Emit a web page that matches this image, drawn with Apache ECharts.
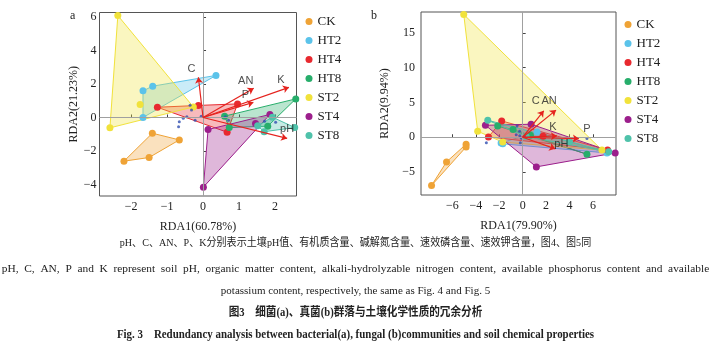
<!DOCTYPE html>
<html>
<head>
<meta charset="utf-8">
<script src="https://cdn.jsdelivr.net/npm/echarts@6/dist/echarts.min.js"></script>
<style>
  html, body { margin: 0; padding: 0; background: #fff; }
  #chart { width: 711px; height: 353px; }
</style>
</head>
<body>
<div id="chart"></div>
<script>
// groups
var groups = ['CK', 'HT2', 'HT4', 'HT8', 'ST2', 'ST4', 'ST8'];

// panel a: bacteria, sample scores
var ckA  = [[-1.41, -0.94], [-0.66, -1.34], [-1.50, -2.39], [-2.20, -2.61]];
var ht2A = [[0.36, 2.51], [-1.40, 1.87], [-1.67, 1.59], [-1.67, 0.00]];
var ht4A = [[-1.27, 0.61], [-0.13, 0.72], [0.96, 0.81], [0.67, -0.88]];
var ht8A = [[2.58, 1.11], [0.73, -0.60], [1.80, -0.52], [0.60, 0.08]];
var st2A = [[-2.37, 6.09], [-2.59, -0.62], [-1.75, 0.78], [-0.27, 0.63]];
var st4A = [[0.01, -4.16], [0.14, -0.72], [1.86, 0.18], [1.46, -0.36]];
var st8A = [[1.93, 0.02], [1.52, -0.50], [2.55, -0.60], [1.70, -0.85]];
// species scores a
var spA = [[-0.36, 0.73], [-0.32, 0.44], [-0.66, -0.26], [-0.68, -0.56], [-0.45, 0.04],
  [-0.22, -0.16], [-0.05, 0.08], [-0.55, -0.04], [0.62, 0.04], [0.71, -0.16],
  [1.71, -0.22], [2.02, -0.28]];
// environment arrows a
var envNames = ['C', 'AN', 'P', 'K', 'pH'];
var envA = [[-0.13, 2.40], [1.41, 1.75], [1.40, 0.90], [2.39, 1.80], [2.34, -1.25]];

// panel b: fungi
var ckB  = [[-7.78, -6.93], [-6.50, -3.54], [-4.83, -1.00], [-4.83, -1.40]];
var ht2B = [[-1.84, -0.81], [-1.70, -0.95], [1.23, 0.76], [7.20, -2.25]];
var ht4B = [[-1.79, 2.34], [-2.92, 0.04], [1.74, 0.14], [7.25, -1.82]];
var ht8B = [[-2.13, 1.62], [-0.82, 1.10], [0.66, 0.29], [5.49, -2.44]];
var st2B = [[-5.03, 17.65], [-3.84, 0.86], [-1.70, -0.70], [6.77, -1.85]];
var st4B = [[-3.18, 1.72], [0.72, 1.87], [1.17, -4.26], [7.90, -2.25]];
var st8B = [[-2.98, 2.44], [4.00, -0.67], [7.35, -2.10], [0.30, 0.10]];
var spB = [[-3.10, -0.80], [-0.48, 1.60], [-0.26, 0.86], [-0.20, -0.80], [5.49, -0.19],
  [-0.55, 0.35], [-0.25, 0.20], [0.15, 0.10], [-0.10, -0.15]];
var envB = [[1.80, 3.80], [2.85, 3.90], [4.80, -0.19], [2.93, 0.19], [2.79, -1.67]];

// tick labels
var xTicksA = [-2, -1, 0, 1, 2];
var yTicksA = [-4, -2, 0, 2, 4, 6];
var xTicksB = [-6, -4, -2, 0, 2, 4, 6];
var yTicksB = [-5, 0, 5, 10, 15];

var colors = ['#EFA336', '#5BC3EA', '#E8292F', '#27AE6B', '#F1E23B', '#9C1F8C', '#4FC2AA'];
var red = '#E5231E';
var serif = '"Liberation Serif", "Times New Roman", serif';
var sans = '"Liberation Sans", Arial, sans-serif';
var cjk = '"Liberation Serif", "Noto Sans CJK SC", serif';

function hull(pts) {
  var p = pts.slice().sort(function (a, b) { return a[0] - b[0] || a[1] - b[1]; });
  function cross(o, a, b) { return (a[0] - o[0]) * (b[1] - o[1]) - (a[1] - o[1]) * (b[0] - o[0]); }
  var lo = [], up = [];
  p.forEach(function (q) {
    while (lo.length >= 2 && cross(lo[lo.length - 2], lo[lo.length - 1], q) <= 0) lo.pop();
    lo.push(q);
  });
  p.slice().reverse().forEach(function (q) {
    while (up.length >= 2 && cross(up[up.length - 2], up[up.length - 1], q) <= 0) up.pop();
    up.push(q);
  });
  lo.pop(); up.pop();
  return lo.concat(up);
}

function rgba(hex, a) {
  var n = parseInt(hex.slice(1), 16);
  return 'rgba(' + (n >> 16) + ',' + ((n >> 8) & 255) + ',' + (n & 255) + ',' + a + ')';
}

function panel(sets, species, env, idx, offsets) {
  var out = [];
  // zero lines
  out.push({
    type: 'scatter', xAxisIndex: idx, yAxisIndex: idx, z: 1, silent: true,
    data: [[0, 0]], symbolSize: 0,
    markLine: {
      silent: true, symbol: 'none', label: { show: false },
      lineStyle: { color: '#a0a0a0', width: 1, type: 'solid' },
      data: [{ xAxis: 0 }, { yAxis: 0 }]
    }
  });
  sets.forEach(function (pts, i) {
    var h = hull(pts);
    var c = colors[i];
    out.push({
      type: 'custom', name: groups[i], xAxisIndex: idx, yAxisIndex: idx, z: 2,
      itemStyle: { color: c },
      data: h,
      encode: { x: 0, y: 1 },
      renderItem: function (params, api) {
        if (params.dataIndex !== 0) return;
        return {
          type: 'polygon',
          shape: { points: h.map(function (q) { return api.coord(q); }) },
          style: { fill: rgba(c, 0.32), stroke: c, lineWidth: 1 }
        };
      }
    });
  });
  sets.forEach(function (pts, i) {
    out.push({
      type: 'scatter', name: groups[i], xAxisIndex: idx, yAxisIndex: idx, z: 3,
      symbolSize: 7, itemStyle: { color: colors[i], opacity: 1 },
      data: pts
    });
  });
  out.push({
    type: 'scatter', xAxisIndex: idx, yAxisIndex: idx, z: 4,
    symbolSize: 3, itemStyle: { color: '#2F4DB0' }, data: species
  });
  out.push({
    type: 'lines', coordinateSystem: 'cartesian2d', xAxisIndex: idx, yAxisIndex: idx, z: 5,
    symbol: ['none', 'arrow'], symbolSize: 6,
    lineStyle: { color: red, width: 1.2, opacity: 1 },
    data: env.map(function (p) { return { coords: [[0, 0], p] }; })
  });
  out.push({
    type: 'scatter', xAxisIndex: idx, yAxisIndex: idx, z: 6, symbolSize: 0,
    label: { show: true, position: 'inside', formatter: '{b}', color: '#222', fontFamily: sans, fontSize: 11 },
    data: env.map(function (p, k) {
      return { name: envNames[k], value: p, label: { offset: offsets[k] } };
    })
  });
  return out;
}

function fmt(v) { return String(v).replace('-', '\u2212'); }

function xAxis(idx, min, max, ticks, name) {
  return {
    type: 'value', gridIndex: idx, min: min, max: max,
    name: name, nameLocation: 'middle', nameGap: 25,
    nameTextStyle: { fontFamily: serif, fontSize: 12, color: '#222' },
    axisLine: { show: false }, splitLine: { show: false },
    axisTick: { show: true, inside: true, length: 3, customValues: ticks, lineStyle: { color: '#444' } },
    axisLabel: { customValues: ticks, formatter: fmt, fontFamily: serif, fontSize: 12, color: '#222', margin: 5 }
  };
}
function yAxis(idx, min, max, ticks, name, gap, margin) {
  return {
    type: 'value', gridIndex: idx, min: min, max: max,
    name: name, nameLocation: 'middle', nameGap: gap, nameRotate: 90,
    nameTextStyle: { fontFamily: serif, fontSize: 12, color: '#222' },
    axisLine: { show: false }, splitLine: { show: false },
    axisTick: { show: true, inside: true, length: 3, customValues: ticks, lineStyle: { color: '#444' } },
    axisLabel: { customValues: ticks, formatter: fmt, fontFamily: serif, fontSize: 12, color: '#222', margin: margin }
  };
}

function legend(left, top) {
  return {
    orient: 'vertical', left: left, top: top, itemGap: 6, padding: 0,
    icon: 'circle', itemWidth: 7, itemHeight: 7,
    textStyle: { fontFamily: serif, fontSize: 13, color: '#222', lineHeight: 12 },
    data: groups
  };
}

var chart = echarts.init(document.getElementById('chart'), null, { renderer: 'canvas' });
var offA = [[-7, -8], [-8, -7], [-8, -7], [-8, -7], [0, -9]];
var offB = [[-8, -10], [-7, -9], [8, -10], [-4, -9], [6, -5]];
var textLines = [
  { t: 'pH\u3001C\u3001AN\u3001P\u3001K\u5206\u522b\u8868\u793a\u571f\u58e4pH\u503c\u3001\u6709\u673a\u8d28\u542b\u91cf\u3001\u78b1\u89e3\u6c2e\u542b\u91cf\u3001\u901f\u6548\u78f7\u542b\u91cf\u3001\u901f\u6548\u94be\u542b\u91cf\uff0c\u56fe4\u3001\u56fe5\u540c', y: 243, f: '11px ' + cjk, s: 0.915 },
  { t: 'pH,  C,  AN,  P  and  K  represent  soil  pH,  organic  matter  content,  alkali-hydrolyzable  nitrogen  content,  available  phosphorus  content  and  available', y: 269, f: '11px ' + serif, s: 1.035 },
  { t: 'potassium content, respectively, the same as Fig. 4 and Fig. 5', y: 291, f: '11px ' + serif, s: 1 },
  { t: '\u56fe3\u3000\u7ec6\u83cc(a)\u3001\u771f\u83cc(b)\u7fa4\u843d\u4e0e\u571f\u58e4\u5316\u5b66\u6027\u8d28\u7684\u5197\u4f59\u5206\u6790', y: 313, f: 'bold 12px ' + cjk, s: 0.885 },
  { t: 'Fig. 3    Redundancy analysis between bacterial(a), fungal (b)communities and soil chemical properties', y: 335, f: 'bold 12px ' + serif, s: 0.91 }
];

chart.setOption({
  animation: false,
  backgroundColor: '#fff',
  grid: [
    { left: 99.5, top: 12.5, width: 197, height: 183.5, show: true, borderColor: '#555', borderWidth: 1, backgroundColor: 'transparent' },
    { left: 421, top: 12, width: 195, height: 183, show: true, borderColor: '#555', borderWidth: 1, backgroundColor: 'transparent' }
  ],
  xAxis: [
    xAxis(0, -2.88, 2.60, xTicksA, 'RDA1(60.78%)'),
    xAxis(1, -8.68, 7.97, xTicksB, 'RDA1(79.90%)')
  ],
  yAxis: [
    yAxis(0, -4.69, 6.27, yTicksA, 'RDA2(21.23%)', 19, 3),
    yAxis(1, -8.3, 18.0, yTicksB, 'RDA2(9.94%)', 30, 6)
  ],
  legend: [legend(305.5, 15), legend(624.5, 18)],
  series: panel([ckA, ht2A, ht4A, ht8A, st2A, st4A, st8A], spA, envA, 0, offA)
    .concat(panel([ckB, ht2B, ht4B, ht8B, st2B, st4B, st8B], spB, envB, 1, offB)),
  graphic: [
    { type: 'text', left: 70, top: 10, style: { text: 'a', font: '12px ' + serif, fill: '#222' } },
    { type: 'text', left: 371, top: 10, style: { text: 'b', font: '12px ' + serif, fill: '#222' } }
  ].concat(textLines.map(function (l) {
    return { type: 'text', x: 355.5, y: l.y, scaleX: l.s, style: { text: l.t, font: l.f, fill: '#222', textAlign: 'center', textVerticalAlign: 'middle' } };
  }))
});
</script>
</body>
</html>
